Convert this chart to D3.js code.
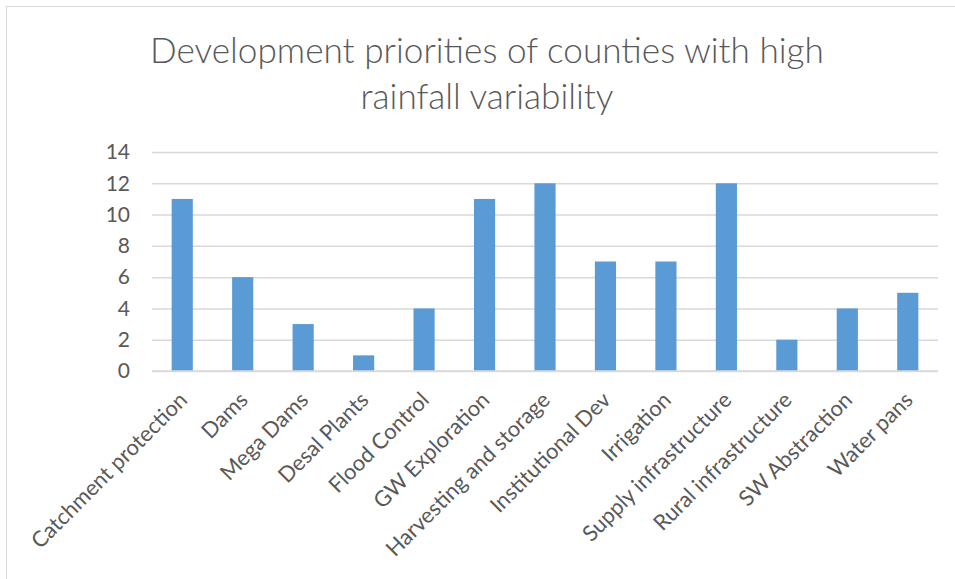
<!DOCTYPE html>
<html>
<head>
<meta charset="utf-8">
<script src="https://cdn.jsdelivr.net/npm/d3@7"></script>
<style>
  html, body { margin: 0; padding: 0; background: #fff; }
  svg { display: block; }
  text { font-family: Lato, "Open Sans", sans-serif; fill: #595959; }
</style>
</head>
<body>
<svg id="chart" width="955" height="579"></svg>
<script>
// Development priorities — number of counties naming each priority
const categories = [
  "Catchment protection", "Dams", "Mega Dams", "Desal Plants", "Flood Control",
  "GW Exploration", "Harvesting and storage", "Institutional Dev", "Irrigation",
  "Supply infrastructure", "Rural infrastructure", "SW Abstraction", "Water pans"
];
const counts = [11, 6, 3, 1, 4, 11, 12, 7, 7, 12, 2, 4, 5];
const yTicks = [0, 2, 4, 6, 8, 10, 12, 14];
const titleLines = ["Development priorities of counties with high", "rainfall variability"];

const W = 955, H = 579;
const plot = { left: 152, right: 938, top: 152, bottom: 371 };

const svg = d3.select("#chart");

// chart area frame
svg.append("rect")
  .attr("x", 6.5).attr("y", 6.5)
  .attr("width", W + 10).attr("height", H + 10)
  .attr("fill", "#fff").attr("stroke", "#d9d9d9").attr("stroke-width", 1);

// pick a font size so a string occupies a given width
function fitSize(str, width, weight) {
  const t = svg.append("text").style("font-size", "100px")
    .style("font-weight", weight || 400).text(str);
  const w = t.node().getComputedTextLength();
  t.remove();
  return 100 * width / w;
}

// title
const titleSize = fitSize(titleLines[0], 674, 300);
svg.append("g").selectAll("text").data(titleLines).join("text")
  .attr("x", 487)
  .attr("y", (d, i) => 63 + i * 46)
  .attr("text-anchor", "middle")
  .style("font-size", titleSize + "px")
  .style("font-weight", 300)
  .text(d => d);

const x = d3.scaleBand()
  .domain(categories)
  .range([plot.left, plot.right])
  .paddingInner(0.65)
  .paddingOuter(0.325);

const y = d3.scaleLinear()
  .domain([0, 14])
  .range([plot.bottom, plot.top]);

// gridlines + y labels
const yAxis = d3.axisLeft(y).tickValues(yTicks).tickSize(plot.right - plot.left).tickPadding(22);
const gy = svg.append("g")
  .attr("transform", `translate(${plot.right},0)`)
  .call(yAxis);
gy.select(".domain").remove();
gy.selectAll(".tick line").attr("stroke", "#d9d9d9").attr("stroke-width", 1.5);
gy.selectAll(".tick text")
  .style("font-size", "21px")
  .attr("fill", "#595959")
  .attr("font-family", null);

// bars
svg.append("g").selectAll("rect").data(categories).join("rect")
  .attr("x", d => x(d))
  .attr("y", (d, i) => y(counts[i]))
  .attr("width", x.bandwidth())
  .attr("height", (d, i) => y(0) - y(counts[i]))
  .attr("fill", "#5b9bd5");

// axis baseline
svg.append("line")
  .attr("x1", plot.left).attr("x2", plot.right)
  .attr("y1", y(0)).attr("y2", y(0))
  .attr("stroke", "#d9d9d9").attr("stroke-width", 1.5);

// rotated category labels
const labelSize = fitSize("Catchment protection", 210);
const xAxis = d3.axisBottom(x).tickSize(0).tickPadding(0);
const gx = svg.append("g")
  .attr("transform", `translate(0,${plot.bottom})`)
  .call(xAxis);
gx.select(".domain").remove();
gx.selectAll(".tick text")
  .attr("font-family", null)
  .attr("fill", "#595959")
  .style("font-size", labelSize + "px")
  .attr("text-anchor", "end")
  .attr("dy", "0.35em")
  .attr("y", 0)
  .attr("transform", "translate(1,25) rotate(-45)");
</script>
</body>
</html>
